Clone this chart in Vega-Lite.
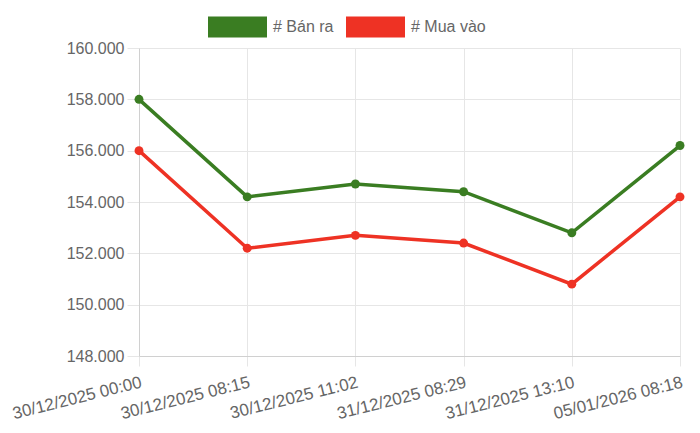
{
  "$schema": "https://vega.github.io/schema/vega-lite/v6.json",
  "width": 541,
  "height": 308,
  "autosize": {"type": "none"},
  "padding": {"left": 139, "top": 48, "right": 20, "bottom": 77},
  "background": "#ffffff",
  "config": {
    "font": "Liberation Sans",
    "view": {"stroke": null},
    "axis": {
      "labelFont": "Liberation Sans",
      "labelFontSize": 16,
      "labelColor": "#666666",
      "gridColor": "#e6e6e6",
      "gridWidth": 1,
      "domainColor": "#d0d0d0",
      "tickColor": "#e6e6e6",
      "title": null
    }
  },
  "data": {
    "values": [
      {"time": "30/12/2025 00:00", "series": "# Bán ra", "price": 158000},
      {"time": "30/12/2025 08:15", "series": "# Bán ra", "price": 154200},
      {"time": "30/12/2025 11:02", "series": "# Bán ra", "price": 154700},
      {"time": "31/12/2025 08:29", "series": "# Bán ra", "price": 154400},
      {"time": "31/12/2025 13:10", "series": "# Bán ra", "price": 152800},
      {"time": "05/01/2026 08:18", "series": "# Bán ra", "price": 156200},
      {"time": "30/12/2025 00:00", "series": "# Mua vào", "price": 156000},
      {"time": "30/12/2025 08:15", "series": "# Mua vào", "price": 152200},
      {"time": "30/12/2025 11:02", "series": "# Mua vào", "price": 152700},
      {"time": "31/12/2025 08:29", "series": "# Mua vào", "price": 152400},
      {"time": "31/12/2025 13:10", "series": "# Mua vào", "price": 150800},
      {"time": "05/01/2026 08:18", "series": "# Mua vào", "price": 154200}
    ]
  },
  "encoding": {
    "x": {
      "field": "time",
      "type": "ordinal",
      "sort": null,
      "scale": {"type": "point", "padding": 0},
      "axis": {
        "labelAngle": -14,
        "labelAlign": "right",
        "labelBaseline": "top",
        "labelFontSize": 17,
        "tickSize": 10,
        "labelPadding": 8,
        "grid": true
      }
    },
    "y": {
      "field": "price",
      "type": "quantitative",
      "scale": {"domain": [148000, 160000], "nice": false, "zero": false},
      "axis": {
        "values": [148000, 150000, 152000, 154000, 156000, 158000, 160000],
        "labelExpr": "replace(format(datum.value, ',.0f'), ',', '.')",
        "tickSize": 12,
        "labelPadding": 3,
        "grid": true
      }
    },
    "color": {
      "field": "series",
      "type": "nominal",
      "scale": {"domain": ["# Bán ra", "# Mua vào"], "range": ["#3a7d22", "#ee3224"]},
      "legend": {
        "orient": "none",
        "legendX": 69,
        "legendY": -51,
        "direction": "horizontal",
        "title": null,
        "padding": 0,
        "symbolType": "M-1,-0.356H1V0.356H-1Z",
        "symbolSize": 3481,
        "symbolStrokeWidth": 0,
        "symbolOpacity": 1,
        "labelFont": "Liberation Sans",
        "labelFontSize": 16,
        "labelColor": "#666666",
        "labelOffset": 6,
        "columnPadding": 12,
        "encode": {
          "symbols": {
            "update": {
              "fill": {"scale": "color", "field": "value"},
              "fillOpacity": {"value": 1}
            }
          }
        }
      }
    }
  },
  "layer": [
    {"mark": {"type": "line", "strokeWidth": 3.5}},
    {"mark": {"type": "point", "filled": true, "size": 80, "opacity": 1}}
  ]
}
